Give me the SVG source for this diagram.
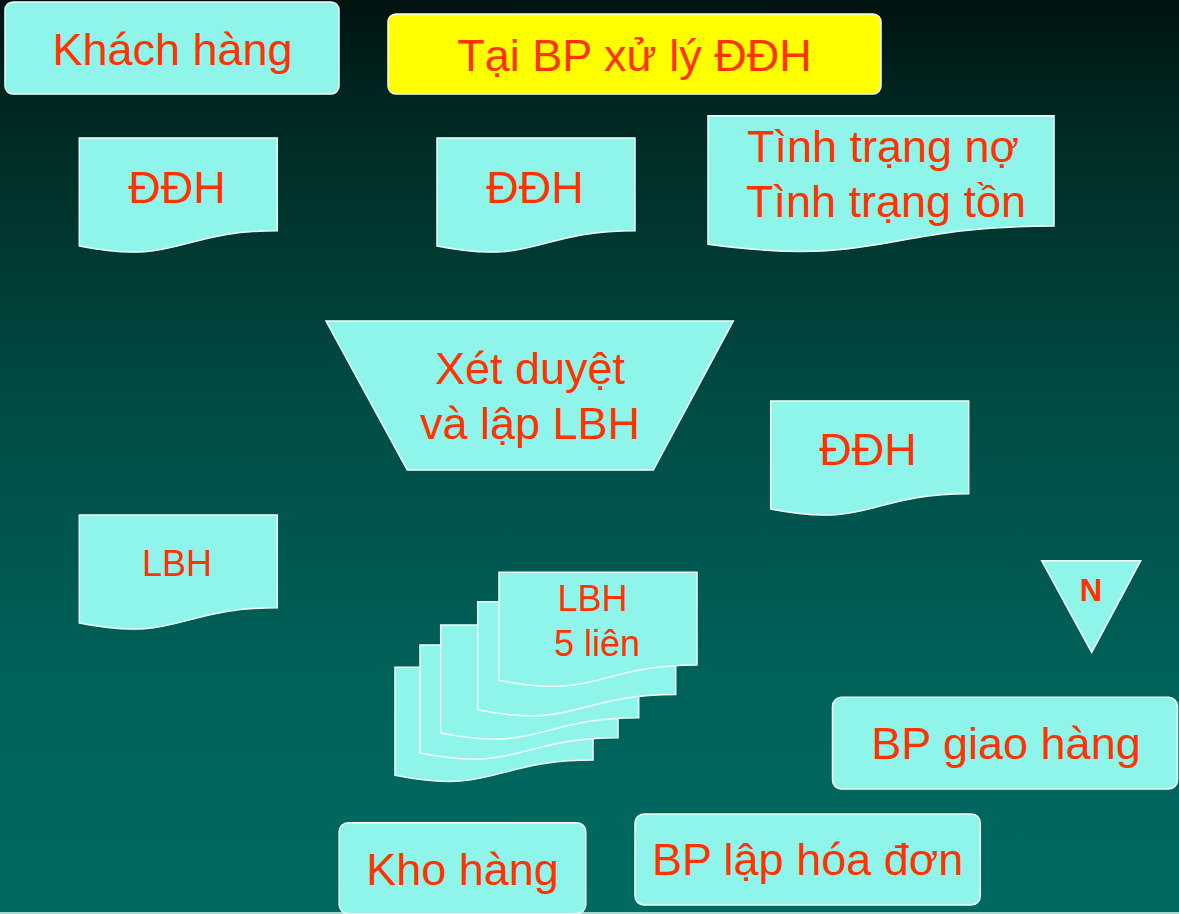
<svg xmlns="http://www.w3.org/2000/svg" width="1179" height="914" viewBox="0 0 1179 914">
  <defs>
    <linearGradient id="bg" x1="0" y1="0" x2="0" y2="1">
      <stop offset="0" stop-color="#001310"/>
      <stop offset="0.12" stop-color="#002822"/>
      <stop offset="0.45" stop-color="#004d45"/>
      <stop offset="0.75" stop-color="#00625a"/>
      <stop offset="1" stop-color="#006a60"/>
    </linearGradient>
    <path id="doc" d="M0,0 H198 V92.7 C99,92.7 99,128 0,108 Z"/>
    <style>
      .shape { fill: #8ff5eb; stroke: #f2fffd; stroke-width: 1.5; }
      .yellow { fill: #ffff00; stroke: #f2fffd; stroke-width: 1.5; }
      .t { font-family: "Liberation Sans", Arial, sans-serif; fill: #ff3300; text-anchor: middle; }
      .big { font-size: 45px; }
      .mid { font-size: 36px; }
      .bold { font-weight: bold; font-size: 31px; }
    </style>
  </defs>

  <rect x="0" y="0" width="1179" height="914" fill="url(#bg)"/>
  <rect x="0" y="912" width="1179" height="2" fill="#a4d8d1"/>

  <g id="khach-hang">
    <rect class="shape" x="5" y="2" width="334" height="92" rx="8"/>
    <text class="t big" x="172.5" y="65">Khách hàng</text>
  </g>

  <g id="tieu-de">
    <rect class="yellow" x="388" y="14" width="493" height="80" rx="8"/>
    <text class="t big" x="634.5" y="71">Tại BP xử lý ĐĐH</text>
  </g>

  <g id="ddh-1">
    <use href="#doc" class="shape" transform="translate(79.3,138)"/>
    <text class="t big" x="177" y="203">ĐĐH</text>
  </g>

  <g id="ddh-2">
    <use href="#doc" class="shape" transform="translate(437,138)"/>
    <text class="t big" x="535" y="203">ĐĐH</text>
  </g>

  <g id="tinh-trang">
    <path class="shape" d="M708,115.7 H1054 V226 C881,226 881,268 708,244.2 Z"/>
    <text class="t big" x="883" y="162.3">Tình trạng nợ</text>
    <text class="t big" x="886" y="217.3">Tình trạng tồn</text>
  </g>

  <g id="xet-duyet">
    <polygon class="shape" points="326,321 733.3,321 653.3,470 407.3,470"/>
    <text class="t big" x="530" y="384">Xét duyệt</text>
    <text class="t big" x="530" y="439.3">và lập LBH</text>
  </g>

  <g id="ddh-3">
    <use href="#doc" class="shape" transform="translate(770.7,401)"/>
    <text class="t big" x="868" y="465">ĐĐH</text>
  </g>

  <g id="lbh">
    <use href="#doc" class="shape" transform="translate(79.3,515)"/>
    <text class="t mid" x="177" y="576">LBH</text>
  </g>

  <g id="lbh-5-lien">
    <use href="#doc" class="shape" transform="translate(395,667.3)"/>
    <use href="#doc" class="shape" transform="translate(420,645)"/>
    <use href="#doc" class="shape" transform="translate(440.7,625)"/>
    <use href="#doc" class="shape" transform="translate(477.7,601.7)"/>
    <use href="#doc" class="shape" transform="translate(499,572.3)"/>
    <text class="t mid" x="592.5" y="610.7">LBH</text>
    <text class="t mid" x="597" y="655.7">5 liên</text>
  </g>

  <g id="luu-tru-n">
    <polygon class="shape" points="1041.7,560.7 1140.7,560.7 1091.7,652.3"/>
    <text class="t bold" x="1091" y="600.7">N</text>
  </g>

  <g id="bp-giao-hang">
    <rect class="shape" x="832.5" y="697.3" width="345" height="91.7" rx="9"/>
    <text class="t big" x="1006" y="759.3">BP giao hàng</text>
  </g>

  <g id="kho-hang">
    <rect class="shape" x="339.2" y="822.7" width="246.6" height="91" rx="9"/>
    <text class="t big" x="462.5" y="885">Kho hàng</text>
  </g>

  <g id="bp-lap-hoa-don">
    <rect class="shape" x="635" y="814" width="345.3" height="91" rx="9"/>
    <text class="t big" x="807.6" y="875">BP lập hóa đơn</text>
  </g>

  <g id="connectors"></g>
</svg>
